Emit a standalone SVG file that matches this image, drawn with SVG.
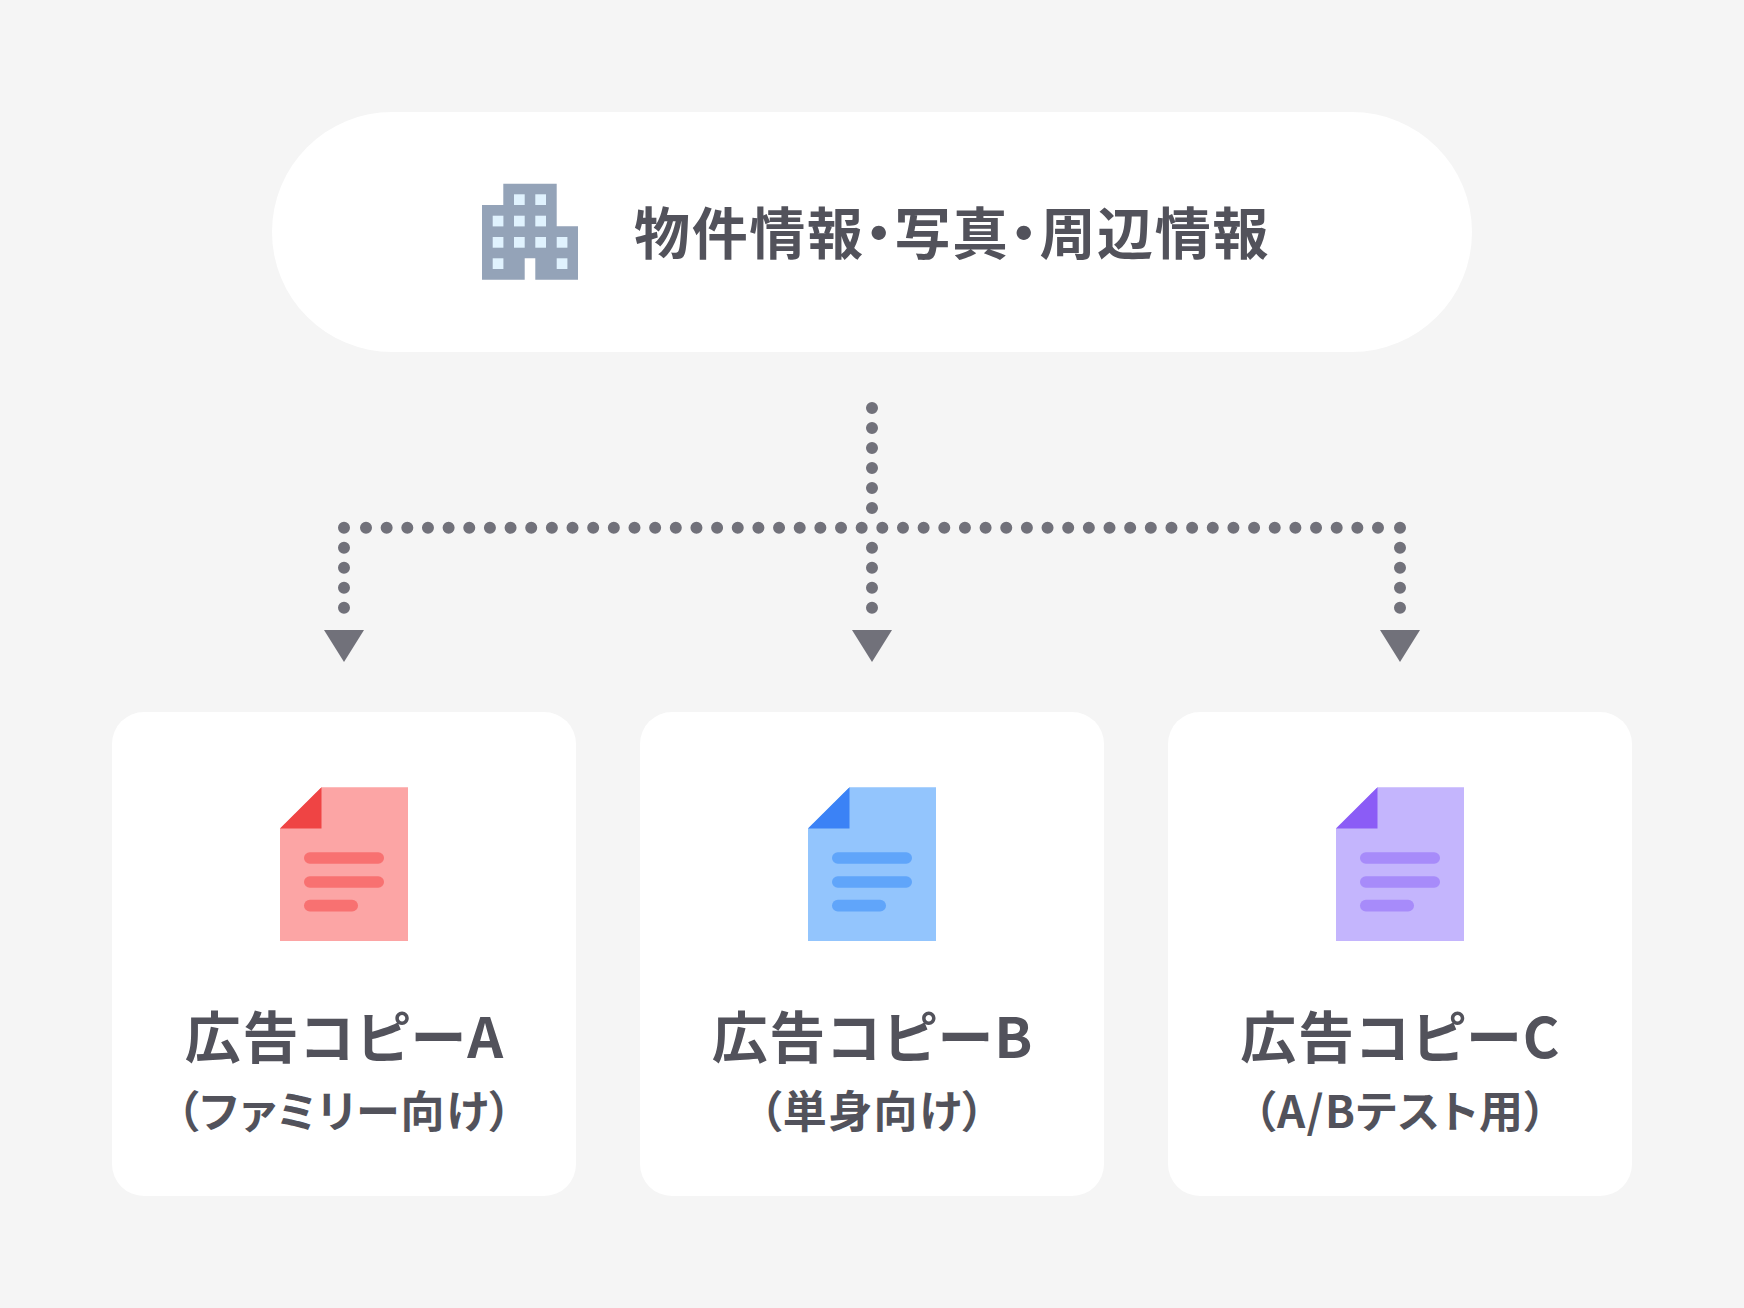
<svg xmlns="http://www.w3.org/2000/svg" width="1744" height="1308" viewBox="0 0 1744 1308">
<style>
.card{fill:#fff}
text{font-family:"Noto Sans CJK JP","Noto Sans",sans-serif;fill:#52525b;font-weight:700;font-feature-settings:"palt";letter-spacing:1.68px}
.t{font-size:56px;text-anchor:middle}
.s{font-size:44px;text-anchor:middle;letter-spacing:1.32px}
.dv{stroke:#71717a;stroke-width:12;stroke-linecap:round;stroke-dasharray:0 20;fill:none}
.dh{stroke:#71717a;stroke-width:12;stroke-linecap:round;stroke-dasharray:0 20.653;fill:none}
.ah{fill:#71717a}
.win{fill:#e0f2fe}
</style>
<defs>
<g id="lines"><rect x="-40" y="65" width="80" height="11.500" rx="5.750"/><rect x="-40" y="89" width="80" height="11.500" rx="5.750"/><rect x="-40" y="112.500" width="54" height="11.700" rx="5.850"/></g>
</defs>
<rect width="1744" height="1308" fill="#f5f5f5"/>
<g id="source">
<rect x="272" y="112" width="1200" height="240" rx="120" class="card"/>
<g id="building">
<path d="M482 205H503.300V183.700H556.700V226.300H578V279.700H535.300V258.300H524.700V279.700H482Z" fill="#94a3b8"/>
<g class="win">
<rect x="514" y="194.300" width="10.700" height="10.700"/><rect x="535.300" y="194.300" width="10.700" height="10.700"/>
<rect x="492.700" y="215.700" width="10.700" height="10.700"/><rect x="514" y="215.700" width="10.700" height="10.700"/><rect x="535.300" y="215.700" width="10.700" height="10.700"/>
<rect x="492.700" y="237" width="10.700" height="10.700"/><rect x="514" y="237" width="10.700" height="10.700"/><rect x="535.300" y="237" width="10.700" height="10.700"/><rect x="556.700" y="237" width="10.700" height="10.700"/>
<rect x="492.700" y="258.300" width="10.700" height="10.700"/><rect x="556.700" y="258.300" width="10.700" height="10.700"/>
</g>
</g>
<text x="634" y="254" style="font-size:56px">物件情報・写真・周辺情報</text>
</g>
<g id="connectors">
<line x1="872" y1="408" x2="872" y2="509" class="dv"/>
<line x1="366" y1="527.800" x2="1379" y2="527.800" class="dh"/>
<line x1="344" y1="527.800" x2="344" y2="609" class="dv"/>
<line x1="872" y1="547.800" x2="872" y2="609" class="dv"/>
<line x1="1400" y1="527.800" x2="1400" y2="609" class="dv"/>
<polygon points="324,630 364,630 344,662" class="ah"/>
<polygon points="852,630 892,630 872,662" class="ah"/>
<polygon points="1380,630 1420,630 1400,662" class="ah"/>
</g>
<g id="card-a">
<rect x="112" y="712" width="464" height="484" rx="32" class="card"/>
<path d="M321.500 787.300H408V941H280V828.500Z" fill="#fca5a5"/><path d="M321.500 787.300V828.500H280Z" fill="#ef4444"/>
<use href="#lines" x="344" y="787.300" fill="#f87171"/>
<text x="344.800" y="1058" class="t">広告コピーA</text>
<text x="344.700" y="1128" class="s">（ファミリー向け）</text>
</g>
<g id="card-b">
<rect x="640" y="712" width="464" height="484" rx="32" class="card"/>
<path d="M849.500 787.300H936V941H808V828.500Z" fill="#93c5fd"/><path d="M849.500 787.300V828.500H808Z" fill="#3b82f6"/>
<use href="#lines" x="872" y="787.300" fill="#60a5fa"/>
<text x="872.800" y="1058" class="t">広告コピーB</text>
<text x="872.700" y="1128" class="s">（単身向け）</text>
</g>
<g id="card-c">
<rect x="1168" y="712" width="464" height="484" rx="32" class="card"/>
<path d="M1377.500 787.300H1464V941H1336V828.500Z" fill="#c4b5fd"/><path d="M1377.500 787.300V828.500H1336Z" fill="#8b5cf6"/>
<use href="#lines" x="1400" y="787.300" fill="#a78bfa"/>
<text x="1400.800" y="1058" class="t">広告コピーC</text>
<text x="1400.700" y="1128" class="s">（A/Bテスト用）</text>
</g>
</svg>
